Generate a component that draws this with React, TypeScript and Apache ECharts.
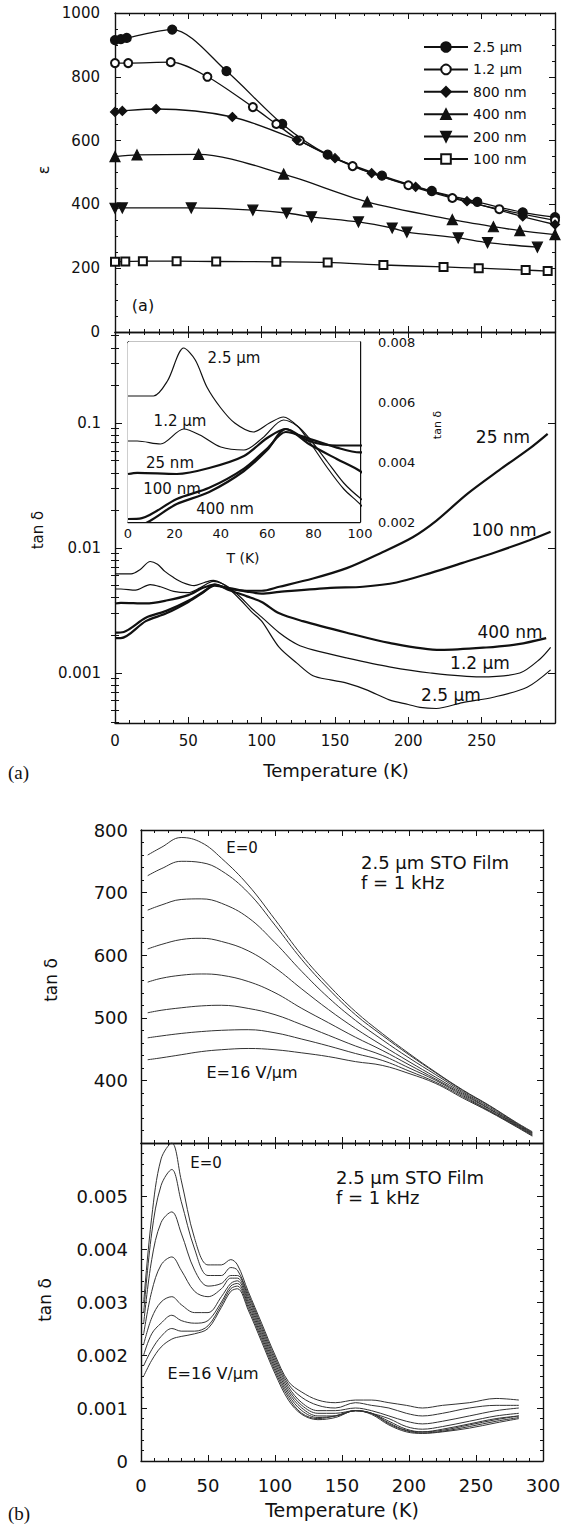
import { useEffect, useRef } from "react";
import * as echarts from "echarts";

const FONT = "DejaVu Sans";
const INK = "#111";

// ---------- Panel (a) top: permittivity vs temperature ----------
const filmNames = ["2.5 µm", "1.2 µm", "800 nm", "400 nm", "200 nm", "100 nm"];
const epsT_25 = [0, 4, 8, 39, 76, 114, 145, 182, 216, 247, 278, 300];
const epsV_25 = [915, 918, 922, 948, 818, 652, 556, 490, 442, 408, 375, 360];
const epsT_12 = [0, 9, 38, 63, 94, 110, 126, 162, 200, 230, 262, 300];
const epsV_12 = [843, 843, 846, 800, 705, 652, 600, 520, 460, 420, 385, 350];
const epsT_800 = [0, 5, 28, 80, 124, 150, 175, 205, 240, 278, 300];
const epsV_800 = [690, 693, 699, 674, 602, 545, 498, 455, 410, 362, 337];
const epsT_400 = [0, 15, 57, 115, 172, 230, 258, 276, 300];
const epsV_400 = [550, 555, 557, 495, 408, 352, 330, 318, 305];
const epsT_200 = [0, 5, 52, 94, 117, 134, 166, 189, 199, 234, 254, 288];
const epsV_200 = [388, 389, 389, 382, 373, 361, 345, 326, 313, 295, 280, 266];
const epsT_100 = [0, 7, 19, 42, 69, 110, 145, 183, 224, 248, 280, 295];
const epsV_100 = [220, 221, 222, 222, 221, 220, 218, 210, 204, 200, 194, 191];

// ---------- Panel (a) bottom + inset: loss tangent vs temperature ----------
const lossNames = ["2.5 µm", "1.2 µm", "25 nm", "100 nm", "400 nm"];
const tanT_25 = [0, 4, 11, 17, 24, 29, 34, 40, 46, 54, 61, 67, 73, 78, 86, 93, 100, 112, 124, 135, 147, 158, 172, 187, 200, 208, 219, 237, 258, 281, 297];
const tanV_25 = [0.0062, 0.0062, 0.0062, 0.0067, 0.0078, 0.0074, 0.0065, 0.0058, 0.0053, 0.005, 0.0053, 0.0055, 0.0052, 0.0047, 0.0038, 0.0031, 0.0026, 0.0016, 0.0012, 0.00095, 0.00088, 0.00083, 0.00073, 0.00061, 0.00056, 0.00053, 0.00052, 0.00058, 0.00064, 0.00077, 0.00106];
const tanT_12 = [0, 4, 14, 24, 31, 40, 50, 58, 67, 73, 78, 86, 93, 100, 112, 124, 135, 158, 187, 215, 249, 276, 290, 297];
const tanV_12 = [0.0047, 0.0047, 0.0046, 0.0051, 0.0049, 0.0045, 0.0044, 0.0048, 0.0054, 0.0052, 0.0048, 0.004, 0.0033, 0.0028, 0.0021, 0.0017, 0.00153, 0.00132, 0.00112, 0.001, 0.00093, 0.001, 0.0013, 0.0016];
const tanT_25n = [0, 4, 21, 35, 50, 60, 68, 78, 90, 100, 112, 135, 158, 181, 203, 219, 240, 262, 283, 295];
const tanV_25n = [0.0036, 0.00364, 0.0036, 0.0038, 0.0042, 0.0048, 0.0051, 0.0047, 0.00455, 0.00455, 0.0049, 0.0057, 0.0069, 0.0091, 0.0122, 0.0165, 0.027, 0.042, 0.063, 0.082];
const tanT_100n = [0, 6, 21, 35, 50, 60, 68, 78, 90, 100, 112, 147, 169, 192, 215, 237, 260, 283, 297];
const tanV_100n = [0.0021, 0.00213, 0.00277, 0.00314, 0.00378, 0.00445, 0.005, 0.00478, 0.00448, 0.00432, 0.00445, 0.0048, 0.0049, 0.0053, 0.0063, 0.0076, 0.0093, 0.0116, 0.0135];
const tanT_400n = [0, 4, 21, 35, 50, 60, 68, 78, 90, 100, 112, 128, 158, 187, 222, 253, 275, 294];
const tanV_400n = [0.0019, 0.0019, 0.0026, 0.003, 0.0037, 0.0044, 0.0051, 0.0046, 0.0041, 0.0037, 0.003, 0.0026, 0.0021, 0.00174, 0.00153, 0.0016, 0.0017, 0.0019];
const logMajor = [0.001, 0.01, 0.1];
const logDecades = [0.0001, 0.001, 0.01, 0.1];
const LOG_MIN = 0.000398;
const LOG_MAX = 0.535;

// ---------- Panel (b) top: permittivity under bias field ----------
const fieldT_eps = [5, 15, 30, 45, 60, 80, 100, 120, 140, 160, 180, 200, 220, 240, 260, 280, 292];
const fieldEps = [
  [760, 772, 788, 780, 755, 712, 657, 600, 552, 510, 475, 443, 413, 385, 360, 333, 318],
  [727, 738, 750, 748, 735, 700, 648, 593, 546, 505, 472, 441, 412, 384, 359, 332, 317],
  [672, 680, 689, 690, 683, 660, 620, 574, 532, 496, 465, 436, 409, 382, 357, 331, 316],
  [610, 617, 625, 627, 622, 607, 580, 546, 513, 483, 456, 430, 405, 380, 355, 330, 315],
  [557, 563, 568, 570, 568, 558, 540, 515, 492, 469, 448, 425, 402, 378, 354, 329, 314],
  [508, 512, 516, 519, 520, 515, 505, 489, 472, 455, 440, 420, 400, 376, 352, 328, 313],
  [468, 471, 475, 478, 480, 481, 476, 466, 455, 443, 432, 415, 397, 374, 351, 327, 312],
  [433, 436, 441, 446, 449, 451, 449, 444, 438, 430, 424, 411, 395, 372, 350, 326, 311],
];

// ---------- Panel (b) bottom: loss tangent under bias field ----------
const fieldT_tan = [2, 8, 15, 23, 30, 40, 50, 60, 67, 72, 80, 90, 100, 110, 120, 132, 145, 160, 172, 185, 198, 210, 225, 245, 265, 282];
const fieldTan = [
  [0.003, 0.0046, 0.0057, 0.006, 0.0053, 0.0042, 0.0037, 0.0037, 0.0038, 0.0037, 0.0032, 0.0026, 0.002, 0.0015, 0.0013, 0.00115, 0.0011, 0.00115, 0.00115, 0.0011, 0.00105, 0.001, 0.00105, 0.0011, 0.00118, 0.00115],
  [0.0028, 0.0043, 0.0052, 0.0055, 0.0049, 0.004, 0.0035, 0.0035, 0.00365, 0.0036, 0.00315, 0.00255, 0.00195, 0.00145, 0.0012, 0.00105, 0.001, 0.0011, 0.00105, 0.001, 0.0009, 0.00085, 0.0009, 0.001, 0.00105, 0.00105],
  [0.0026, 0.0038, 0.0045, 0.0047, 0.0043, 0.0036, 0.0033, 0.00335, 0.0035, 0.0035, 0.0031, 0.0025, 0.0019, 0.0014, 0.0011, 0.00095, 0.00095, 0.001, 0.00095, 0.00085, 0.00075, 0.0007, 0.00075, 0.00085, 0.00095, 0.001],
  [0.0024, 0.0032, 0.0037, 0.00385, 0.0036, 0.0032, 0.0031, 0.00325, 0.00345, 0.00345, 0.00305, 0.00245, 0.00185, 0.00135, 0.00105, 0.0009, 0.0009, 0.00095, 0.0009, 0.0008, 0.00065, 0.0006, 0.00065, 0.00075, 0.00085, 0.0009],
  [0.0022, 0.0027, 0.003, 0.0031, 0.00295, 0.0028, 0.0028, 0.0031, 0.00335, 0.0034, 0.003, 0.0024, 0.0018, 0.0013, 0.001, 0.00085, 0.00085, 0.00095, 0.0009, 0.00075, 0.0006, 0.00055, 0.0006, 0.0007, 0.0008, 0.00085],
  [0.002, 0.0024, 0.0026, 0.00275, 0.00265, 0.0026, 0.00265, 0.003, 0.0033, 0.00335, 0.00295, 0.00235, 0.00175, 0.00125, 0.00095, 0.00082, 0.00085, 0.00095, 0.0009, 0.00072, 0.00058, 0.00055, 0.00058, 0.00068, 0.00078, 0.00085],
  [0.0018, 0.0021, 0.00235, 0.0025, 0.00245, 0.00245, 0.00255, 0.00295, 0.00325, 0.0033, 0.0029, 0.0023, 0.0017, 0.0012, 0.0009, 0.0008, 0.00085, 0.00095, 0.0009, 0.0007, 0.00057, 0.00053, 0.00056, 0.00065, 0.00075, 0.00082],
  [0.0016, 0.0019, 0.00215, 0.0023, 0.00235, 0.0024, 0.0025, 0.0029, 0.0032, 0.00325, 0.00285, 0.00225, 0.00165, 0.00115, 0.00088, 0.00078, 0.00082, 0.00095, 0.00088, 0.00068, 0.00055, 0.00052, 0.00055, 0.00062, 0.00072, 0.0008],
];

const zip = (t: number[], v: number[]) => t.map((x, i) => [x, v[i]]);

const epsData = [
  zip(epsT_25, epsV_25),
  zip(epsT_12, epsV_12),
  zip(epsT_800, epsV_800),
  zip(epsT_400, epsV_400),
  zip(epsT_200, epsV_200),
  zip(epsT_100, epsV_100),
];
const epsSymbols = ["circle", "emptyCircle", "diamond", "triangle", "triangle", "emptyRect"];
const epsSymbolRotate = [0, 0, 0, 0, 180, 0];
const epsSymbolSize = [9, 8, 9, 10, 10, 8];

const lossData = [
  zip(tanT_25, tanV_25),
  zip(tanT_12, tanV_12),
  zip(tanT_25n, tanV_25n),
  zip(tanT_100n, tanV_100n),
  zip(tanT_400n, tanV_400n),
];
const lossWidths = [1.2, 1.2, 2.2, 2.2, 2.2];

const axisLine = { show: true, onZero: false, lineStyle: { color: INK, width: 1.4 } };
const plain = (v: number) => String(Number(v.toPrecision(6)));

function valAxis(o: any) {
  return {
    type: "value",
    gridIndex: o.grid,
    position: o.position,
    min: o.min,
    max: o.max,
    interval: o.interval,
    axisLine,
    axisTick: { show: true, inside: true, length: o.tickLen ?? 6, lineStyle: { color: INK, width: 1 } },
    minorTick: { show: true, splitNumber: o.minor, length: o.minorLen ?? 3, lineStyle: { color: INK, width: 1 } },
    axisLabel: {
      show: !!o.label,
      color: INK,
      fontFamily: FONT,
      fontSize: o.fontSize ?? 15,
      margin: o.margin ?? 10,
      showMinLabel: o.showMin ?? true,
      showMaxLabel: o.showMax ?? true,
      formatter: plain,
    },
    splitLine: { show: false },
    minorSplitLine: { show: false },
  };
}

function logAxis(o: any) {
  return {
    type: "log",
    logBase: 10,
    gridIndex: o.grid,
    position: o.position,
    min: LOG_MIN,
    max: LOG_MAX,
    axisLine: o.line ? axisLine : { show: false },
    axisTick: { show: true, inside: true, length: o.tickLen, customValues: o.ticks, lineStyle: { color: INK, width: 1 } },
    axisLabel: {
      show: !!o.label,
      customValues: o.ticks,
      color: INK,
      fontFamily: FONT,
      fontSize: 15,
      margin: 14,
      formatter: (v: number) => String(Number(v.toPrecision(2))),
    },
    splitLine: { show: false },
  };
}

function txt(text: string, x: number, y: number, size: number, extra: any = {}) {
  return {
    type: "text",
    x,
    y,
    rotation: extra.rotation ?? 0,
    z: 100,
    style: {
      text,
      fill: INK,
      fontFamily: extra.family ?? FONT,
      fontSize: size,
      textAlign: extra.align ?? "center",
      textVerticalAlign: "middle",
    },
  };
}

export default function App() {
  const ref = useRef<HTMLDivElement>(null);

  useEffect(() => {
    if (!ref.current) return;
    const chart = echarts.init(ref.current, undefined, { renderer: "svg" });

    const logMinor: number[] = [];
    logDecades.forEach((d) => {
      for (let k = 2; k <= 9; k++) {
        const v = Number((k * d).toPrecision(3));
        if (v >= LOG_MIN && v <= LOG_MAX) logMinor.push(v);
      }
    });

    const series: any[] = [];
    epsData.forEach((d, i) => {
      series.push({
        name: filmNames[i],
        type: "line",
        xAxisIndex: 0,
        yAxisIndex: 0,
        data: d,
        smooth: 0.3,
        symbol: epsSymbols[i],
        symbolRotate: epsSymbolRotate[i],
        symbolSize: epsSymbolSize[i],
        showAllSymbol: true,
        lineStyle: { color: INK, width: 1.3 },
        itemStyle: { color: INK, borderColor: INK, borderWidth: 1.2 },
        z: 5,
      });
    });
    lossData.forEach((d, i) => {
      series.push({
        name: "tan " + lossNames[i],
        type: "line",
        xAxisIndex: 2,
        yAxisIndex: 2,
        data: d,
        smooth: 0.3,
        symbol: "none",
        lineStyle: { color: INK, width: lossWidths[i] },
      });
      series.push({
        name: "inset " + lossNames[i],
        type: "line",
        xAxisIndex: 4,
        yAxisIndex: 6,
        data: d,
        smooth: 0.3,
        symbol: "none",
        clip: true,
        lineStyle: { color: INK, width: lossWidths[i] },
        z: 20,
      });
    });
    fieldEps.forEach((v, i) => {
      series.push({
        name: "eps field " + i,
        type: "line",
        xAxisIndex: 6,
        yAxisIndex: 8,
        data: zip(fieldT_eps, v),
        smooth: 0.4,
        symbol: "none",
        lineStyle: { color: "#333", width: 1 },
      });
    });
    fieldTan.forEach((v, i) => {
      series.push({
        name: "tan field " + i,
        type: "line",
        xAxisIndex: 8,
        yAxisIndex: 10,
        data: zip(fieldT_tan, v),
        smooth: 0.35,
        symbol: "none",
        lineStyle: { color: "#333", width: 1 },
      });
    });

    const option: any = {
      animation: false,
      backgroundColor: "#fff",
      textStyle: { fontFamily: FONT },
      grid: [
        { left: 115, top: 13, width: 440, height: 319 },
        { left: 115, top: 332, width: 440, height: 391 },
        { left: 128, top: 342, width: 232, height: 180, show: true, backgroundColor: "#fff", borderWidth: 0, z: 10 },
        { left: 141, top: 830, width: 402, height: 313 },
        { left: 141, top: 1143, width: 402, height: 318 },
      ],
      xAxis: [
        valAxis({ grid: 0, position: "bottom", min: 0, max: 300, interval: 50, minor: 5 }),
        valAxis({ grid: 0, position: "top", min: 0, max: 300, interval: 50, minor: 5 }),
        valAxis({ grid: 1, position: "bottom", min: 0, max: 300, interval: 50, minor: 5, label: true, fontSize: 15, margin: 10, showMax: false }),
        valAxis({ grid: 1, position: "top", min: 0, max: 300, interval: 50, minor: 5 }),
        valAxis({ grid: 2, position: "bottom", min: 0, max: 100, interval: 20, minor: 4, label: true, fontSize: 13, margin: 5, tickLen: 5, minorLen: 3 }),
        valAxis({ grid: 2, position: "top", min: 0, max: 100, interval: 20, minor: 4, tickLen: 5 }),
        valAxis({ grid: 3, position: "bottom", min: 0, max: 300, interval: 50, minor: 5 }),
        valAxis({ grid: 3, position: "top", min: 0, max: 300, interval: 50, minor: 5 }),
        valAxis({ grid: 4, position: "bottom", min: 0, max: 300, interval: 50, minor: 5, label: true, fontSize: 18, margin: 15 }),
        valAxis({ grid: 4, position: "top", min: 0, max: 300, interval: 50, minor: 5 }),
      ],
      yAxis: [
        valAxis({ grid: 0, position: "left", min: 0, max: 1000, interval: 200, minor: 4, label: true, fontSize: 15, margin: 15 }),
        valAxis({ grid: 0, position: "right", min: 0, max: 1000, interval: 200, minor: 4 }),
        logAxis({ grid: 1, position: "left", ticks: logMajor, tickLen: 7, line: true, label: true }),
        logAxis({ grid: 1, position: "left", ticks: logMinor, tickLen: 4 }),
        logAxis({ grid: 1, position: "right", ticks: logMajor, tickLen: 7, line: true }),
        logAxis({ grid: 1, position: "right", ticks: logMinor, tickLen: 4 }),
        valAxis({ grid: 2, position: "right", min: 0.002, max: 0.008, interval: 0.002, minor: 4, label: true, fontSize: 13, margin: 18, tickLen: 5 }),
        valAxis({ grid: 2, position: "left", min: 0.002, max: 0.008, interval: 0.002, minor: 4, tickLen: 5 }),
        valAxis({ grid: 3, position: "left", min: 300, max: 800, interval: 100, minor: 5, label: true, fontSize: 18, margin: 13, showMin: false }),
        valAxis({ grid: 3, position: "right", min: 300, max: 800, interval: 100, minor: 5 }),
        valAxis({ grid: 4, position: "left", min: 0, max: 0.006, interval: 0.001, minor: 5, label: true, fontSize: 18, margin: 13, showMax: false }),
        valAxis({ grid: 4, position: "right", min: 0, max: 0.006, interval: 0.001, minor: 5 }),
      ],
      legend: {
        data: filmNames,
        left: 418,
        top: 35,
        orient: "vertical",
        itemWidth: 44,
        itemHeight: 12,
        itemGap: 8.4,
        textStyle: { fontFamily: FONT, fontSize: 14, color: INK },
        selectedMode: false,
      },
      graphic: [
        txt("ε", 43, 170, 16, { rotation: Math.PI / 2 }),
        txt("(a)", 143, 305, 16),
        txt("tan δ", 38, 530, 15, { rotation: Math.PI / 2 }),
        txt("Temperature (K)", 336, 770, 18),
        txt("25 nm", 503, 437, 17),
        txt("100 nm", 504, 530, 17),
        txt("400 nm", 510, 632, 17),
        txt("1.2 µm", 480, 663, 17),
        txt("2.5 µm", 451, 695, 17),
        txt("2.5 µm", 234, 358, 15),
        txt("1.2 µm", 180, 421, 15),
        txt("25 nm", 170, 463, 15),
        txt("100 nm", 172, 489, 15),
        txt("400 nm", 225, 509, 15),
        txt("T (K)", 243, 558, 14),
        txt("tan δ", 437, 425, 11, { rotation: Math.PI / 2 }),
        txt("(a)", 8, 772, 19, { align: "left", family: "Liberation Serif" }),
        txt("tan δ", 51, 980, 17, { rotation: Math.PI / 2 }),
        txt("E=0", 242, 848, 15),
        txt("2.5 µm STO Film", 361, 862, 18, { align: "left" }),
        txt("f = 1 kHz", 361, 882, 18, { align: "left" }),
        txt("E=16 V/µm", 252, 1072, 16),
        txt("tan δ", 45, 1300, 17, { rotation: Math.PI / 2 }),
        txt("E=0", 206, 1163, 15),
        txt("2.5 µm STO Film", 336, 1177, 18, { align: "left" }),
        txt("f = 1 kHz", 336, 1197, 18, { align: "left" }),
        txt("E=16 V/µm", 213, 1373, 16),
        txt("Temperature (K)", 342, 1510, 19),
        txt("(b)", 8, 1513, 19, { align: "left", family: "Liberation Serif" }),
      ],
      series,
    };

    chart.setOption(option);
    return () => chart.dispose();
  }, []);

  return (
    <div
      ref={ref}
      style={{ position: "absolute", left: 0, top: 0, width: 566, height: 1528, background: "#fff" }}
    />
  );
}
